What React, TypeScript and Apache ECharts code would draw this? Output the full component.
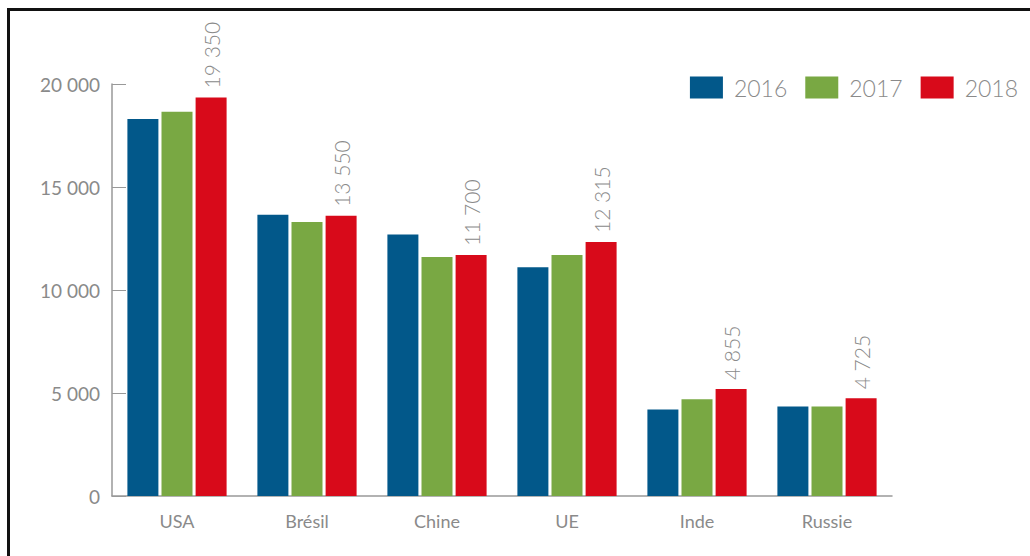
import React, { useEffect, useRef } from "react";
import * as echarts from "echarts";

const categories = ["USA", "Brésil", "Chine", "UE", "Inde", "Russie"];
const years = ["2016", "2017", "2018"];
const values2016 = [18300, 13650, 12700, 11100, 4200, 4350];
const values2017 = [18650, 13300, 11600, 11700, 4700, 4350];
const values2018 = [19350, 13600, 11700, 12330, 5190, 4740];
const labels2018 = ["19 350", "13 550", "11 700", "12 315", "4 855", "4 725"];
const yTicks = [0, 5000, 10000, 15000, 20000];

const colors = ["#02588a", "#79a843", "#d80a1a"];
const grey = "#8a8a8a";
const font = "Lato, 'Open Sans', sans-serif";

const fmt = (v: number) => String(v).replace(/\B(?=(\d{3})+(?!\d))/g, " ");

export default function App() {
  const ref = useRef<HTMLDivElement>(null);
  useEffect(() => {
    if (!ref.current) return;
    const chart = echarts.init(ref.current, null, { renderer: "svg" });
    const mk = (name: string, data: number[], i: number, withLabel: boolean) => ({
      name,
      type: "bar",
      data,
      barWidth: 31,
      barGap: "10%",
      itemStyle: { color: colors[i] },
      label: withLabel
        ? {
            show: true,
            position: "top",
            rotate: 90,
            align: "left",
            verticalAlign: "middle",
            distance: 9,
            color: grey,
            fontSize: 21,
            fontFamily: font,
            fontWeight: 300,
            formatter: (p: any) => labels2018[p.dataIndex],
          }
        : { show: false },
    });
    chart.setOption({
      animation: false,
      backgroundColor: "#ffffff",
      legend: {
        data: years,
        right: 7,
        top: 71,
        itemWidth: 33,
        itemHeight: 22,
        itemGap: 18,
        icon: "rect",
        textStyle: { color: grey, fontSize: 23, fontFamily: font, fontWeight: 300, padding: [0, 0, 0, 6] },
      },
      grid: { left: 112, right: 138, top: 84, bottom: 60, containLabel: false },
      xAxis: {
        type: "category",
        data: categories,
        axisLine: { lineStyle: { color: "#999", width: 1.5 } },
        axisTick: { inside: true, length: 10, lineStyle: { color: "#999" } },
        axisLabel: { color: grey, fontSize: 18, fontFamily: font, margin: 16 },
      },
      yAxis: {
        type: "value",
        min: yTicks[0],
        max: yTicks[yTicks.length - 1],
        interval: 5000,
        axisLine: { show: true, lineStyle: { color: "#999", width: 1.5 } },
        axisTick: { show: true, inside: true, length: 14, lineStyle: { color: "#999" } },
        splitLine: { show: false },
        axisLabel: { color: grey, fontSize: 19, fontFamily: font, margin: 12, formatter: (v: number) => fmt(v) },
      },
      series: [
        mk(years[0], values2016, 0, false),
        mk(years[1], values2017, 1, false),
        mk(years[2], values2018, 2, true),
      ],
    });
    return () => chart.dispose();
  }, []);
  return (
    <div style={{ position: "fixed", left: 0, top: 0, width: 1030, height: 556, background: "#fff" }}>
      <div ref={ref} style={{ position: "absolute", left: 0, top: 0, width: 1030, height: 556 }} />
      <div
        style={{
          position: "absolute",
          left: 7,
          top: 8,
          right: 0,
          bottom: 0,
          borderTop: "3px solid #111",
          borderLeft: "3px solid #111",
          pointerEvents: "none",
        }}
      />
    </div>
  );
}
